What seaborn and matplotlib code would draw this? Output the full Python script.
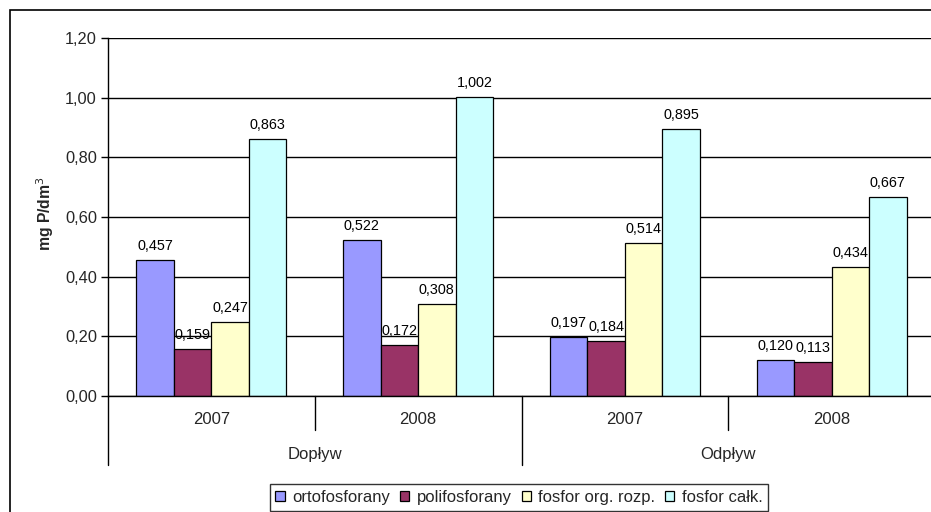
import pandas as pd
import numpy as np
import seaborn as sns
import matplotlib.pyplot as plt
from matplotlib.patches import Rectangle
import matplotlib.transforms as mtransforms

# data
groups = ["Dopływ", "Dopływ", "Odpływ", "Odpływ"]
years = ["2007", "2008", "2007", "2008"]
series = ["ortofosforany", "polifosforany", "fosfor org. rozp.", "fosfor całk."]
ortofosforany = [0.457, 0.522, 0.197, 0.120]
polifosforany = [0.159, 0.172, 0.184, 0.113]
fosfor_org = [0.247, 0.308, 0.514, 0.434]
fosfor_calk = [0.863, 1.002, 0.895, 0.667]
colors = ["#9999FF", "#993366", "#FFFFCC", "#CCFFFF"]

keys = [g + " " + y for g, y in zip(groups, years)]
df = pd.DataFrame({
    "key": keys * 4,
    "series": np.repeat(series, 4),
    "value": ortofosforany + polifosforany + fosfor_org + fosfor_calk,
})

sns.set_theme(style="white")
plt.rcParams['font.family'] = ['Liberation Sans', 'DejaVu Sans']

W, H = 931, 512
fig = plt.figure(figsize=(W / 100, H / 100), dpi=100)
ax = fig.add_axes([108 / W, 1 - 396 / H, (935 - 108) / W, (396 - 38) / H])

sns.barplot(data=df, x="key", y="value", hue="series", order=keys,
            hue_order=series, palette=colors, saturation=1, width=0.725,
            edgecolor="black", linewidth=0.9, ax=ax, legend=True)

for cont in ax.containers:
    labs = [f"{v:.3f}".replace(".", ",") for v in cont.datavalues]
    ax.bar_label(cont, labels=labs, padding=5, fontsize=10.4, color="black")

ax.set_xlim(-0.5, 3.5)
ax.set_ylim(0, 1.2)
ax.set_yticks(np.arange(0, 1.21, 0.2))
ax.set_yticklabels([f"{t:.2f}".replace(".", ",") for t in np.arange(0, 1.21, 0.2)],
                   fontsize=11.8)
ax.tick_params(axis="y", left=True, length=5, width=1, color="black", pad=3)
ax.set_xticks([])
ax.set_xlabel("")
ax.set_ylabel("")
ax.set_axisbelow(True)
ax.yaxis.grid(True, color="black", linewidth=1)
for s in ["top", "right"]:
    ax.spines[s].set_visible(False)
for s in ["left", "bottom"]:
    ax.spines[s].set_color("black")
    ax.spines[s].set_linewidth(1)

# multi-level category axis
tr = mtransforms.blended_transform_factory(ax.transData, ax.transAxes)
ah = 396 - 38
for x in [0.5, 2.5]:
    ax.plot([x, x], [0, -34 / ah], color="black", lw=1, transform=tr, clip_on=False)
for x in [-0.5, 1.5, 3.5]:
    ax.plot([x, x], [0, -69 / ah], color="black", lw=1, transform=tr, clip_on=False)
for i, y in enumerate(years):
    ax.text(i, -23 / ah, y, transform=tr, ha="center", va="center", fontsize=12)
for i, g in enumerate(["Dopływ", "Odpływ"]):
    ax.text(2 * i + 0.5, -59 / ah, g, transform=tr, ha="center", va="center", fontsize=12)

fig.text(45 / W, 1 - 214 / H, "mg P/dm$^3$", rotation=90, ha="center", va="center",
         fontsize=11.3, fontweight="bold")

# legend
handles, labels = ax.get_legend_handles_labels()
ax.get_legend().remove()
leg = fig.legend(handles, labels, loc="upper center", bbox_to_anchor=(519 / W, 1 - 484 / H),
                 ncol=4, fontsize=12, frameon=True, fancybox=False, edgecolor="black",
                 handlelength=0.55, handleheight=0.55, handletextpad=0.45, columnspacing=0.6,
                 borderpad=0.35, borderaxespad=0)
leg.get_frame().set_linewidth(1)

# outer chart frame
fig.add_artist(Rectangle((10 / W, -0.05), 1.1, 1 - 10 / H + 0.05, transform=fig.transFigure,
                         fill=False, edgecolor="black", linewidth=1.2))

fig.savefig("out.png", dpi=100)
